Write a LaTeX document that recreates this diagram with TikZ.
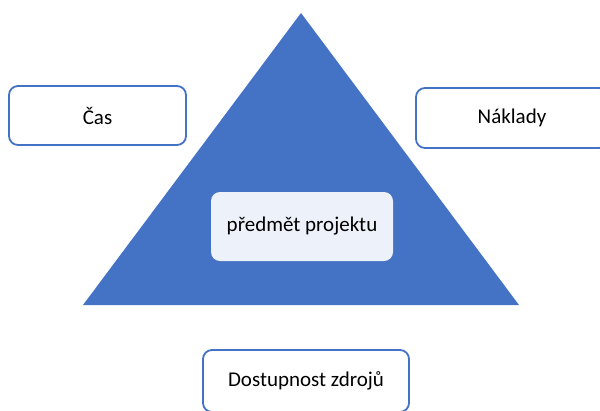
\documentclass[tikz,border=0pt]{standalone}
\usepackage{fontspec}
\setmainfont{Carlito}

\definecolor{accent}{HTML}{4472C4}
\definecolor{paleblue}{HTML}{EDF1F9}

\tikzset{
  sidebox/.style={draw=accent, line width=1.8pt, rounded corners=9pt, fill=white,
    inner sep=0pt, font=\fontsize{21}{25}\selectfont},
  corebox/.style={fill=paleblue, rounded corners=9pt, inner sep=0pt,
    font=\fontsize{21}{25}\selectfont}
}

\begin{document}
\begin{tikzpicture}[x=1pt,y=-1pt]

          \useasboundingbox (0,0) rectangle (600,410);

          % triangle
          \fill[accent] (301,13) -- (519,305) -- (83,305) -- cycle;

          \node[corebox, minimum width=182pt, minimum height=69pt] (core) at (302,226.5) {předmět projektu};

          \node[sidebox, minimum width=177pt, minimum height=59pt] (time) at (97.5,115.5) {Čas};
          \node[sidebox, minimum width=192pt, minimum height=60pt] (cost) at (512,118) {Náklady};
          \node[sidebox, minimum width=206pt, minimum height=62pt] (res) at (306,381) {Dostupnost zdrojů};

\end{tikzpicture}
\end{document}
